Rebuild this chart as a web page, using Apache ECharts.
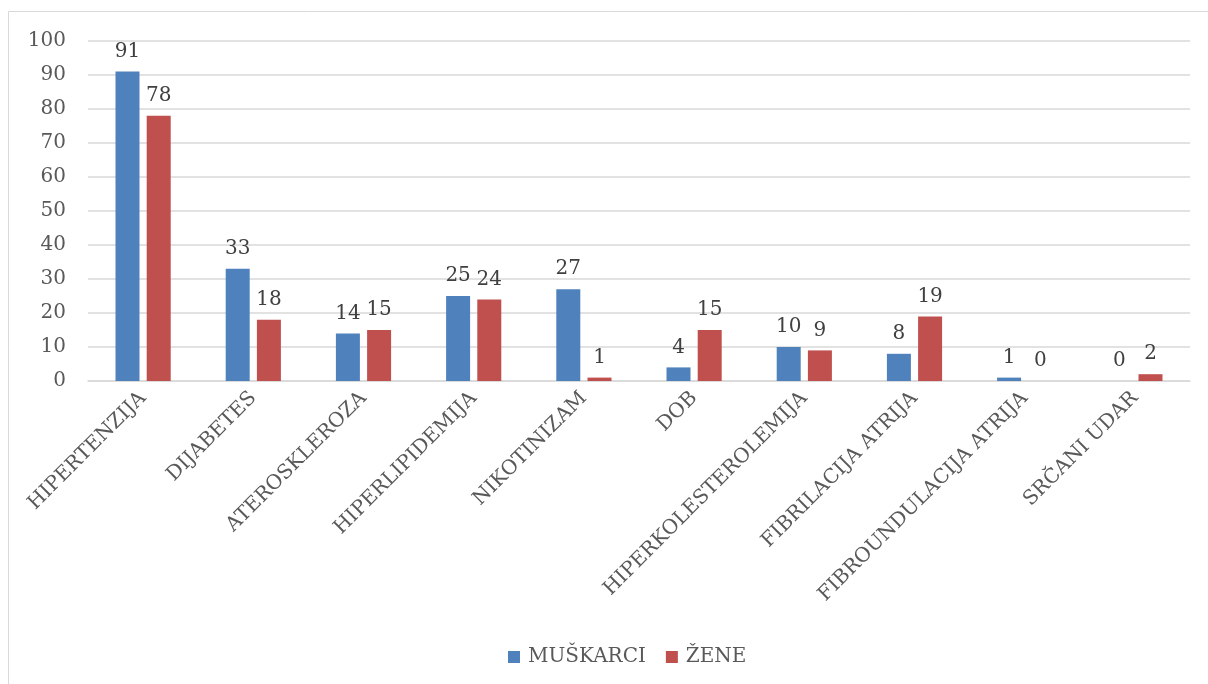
<!DOCTYPE html>
<html><head><meta charset="utf-8">
<script src="https://cdn.jsdelivr.net/npm/echarts@6/dist/echarts.min.js"></script>
<style>html,body{margin:0;padding:0;background:#fff}#c{width:1208px;height:684px}</style>
</head><body><div id="c"></div>
<script>
const categories = ['HIPERTENZIJA','DIJABETES','ATEROSKLEROZA','HIPERLIPIDEMIJA','NIKOTINIZAM','DOB','HIPERKOLESTEROLEMIJA','FIBRILACIJA ATRIJA','FIBROUNDULACIJA ATRIJA','SRČANI UDAR'];
const muskarci = [91,33,14,25,27,4,10,8,1,0];
const zene = [78,18,15,24,1,15,9,19,0,2];
const seriesNames = ['MUŠKARCI','ŽENE'];
const font = 'DejaVu Serif';
const txt = '#595959';
const chart = echarts.init(document.getElementById('c'));
const lbl = {show:true, position:'top', distance:10, color:'#404040', fontFamily:font, fontSize:20};
chart.setOption({
  animation:false,
  graphic:[{type:'rect', shape:{x:8.5,y:11.5,width:1300,height:1000}, style:{fill:'none', stroke:'#d9d9d9', lineWidth:1}}],
  grid:{left:88, right:18, top:41, bottom:303, containLabel:false},
  legend:{bottom:12, left:503, itemWidth:12, itemHeight:12, itemGap:20, itemStyle:{borderWidth:0}, icon:'rect',
    textStyle:{color:txt, fontFamily:font, fontSize:20, padding:[0,0,0,3]}, data:seriesNames},
  xAxis:{type:'category', data:categories,
    axisLine:{lineStyle:{color:'#d9d9d9', width:1.5}}, axisTick:{show:false},
    axisLabel:{rotate:45, interval:0, color:txt, fontFamily:font, fontSize:20, margin:14}},
  yAxis:{type:'value', min:0, max:100, interval:10,
    axisLine:{show:false}, axisTick:{show:false},
    splitLine:{lineStyle:{color:'#d9d9d9', width:1.5}},
    axisLabel:{color:txt, fontFamily:font, fontSize:20, margin:22}},
  series:[
    {name:seriesNames[0], type:'bar', data:muskarci, barWidth:24, barGap:'30%', itemStyle:{color:'#4f81bd'}, label:lbl},
    {name:seriesNames[1], type:'bar', data:zene, barWidth:24, itemStyle:{color:'#c0504d'}, label:lbl}
  ]
});
</script></body></html>
